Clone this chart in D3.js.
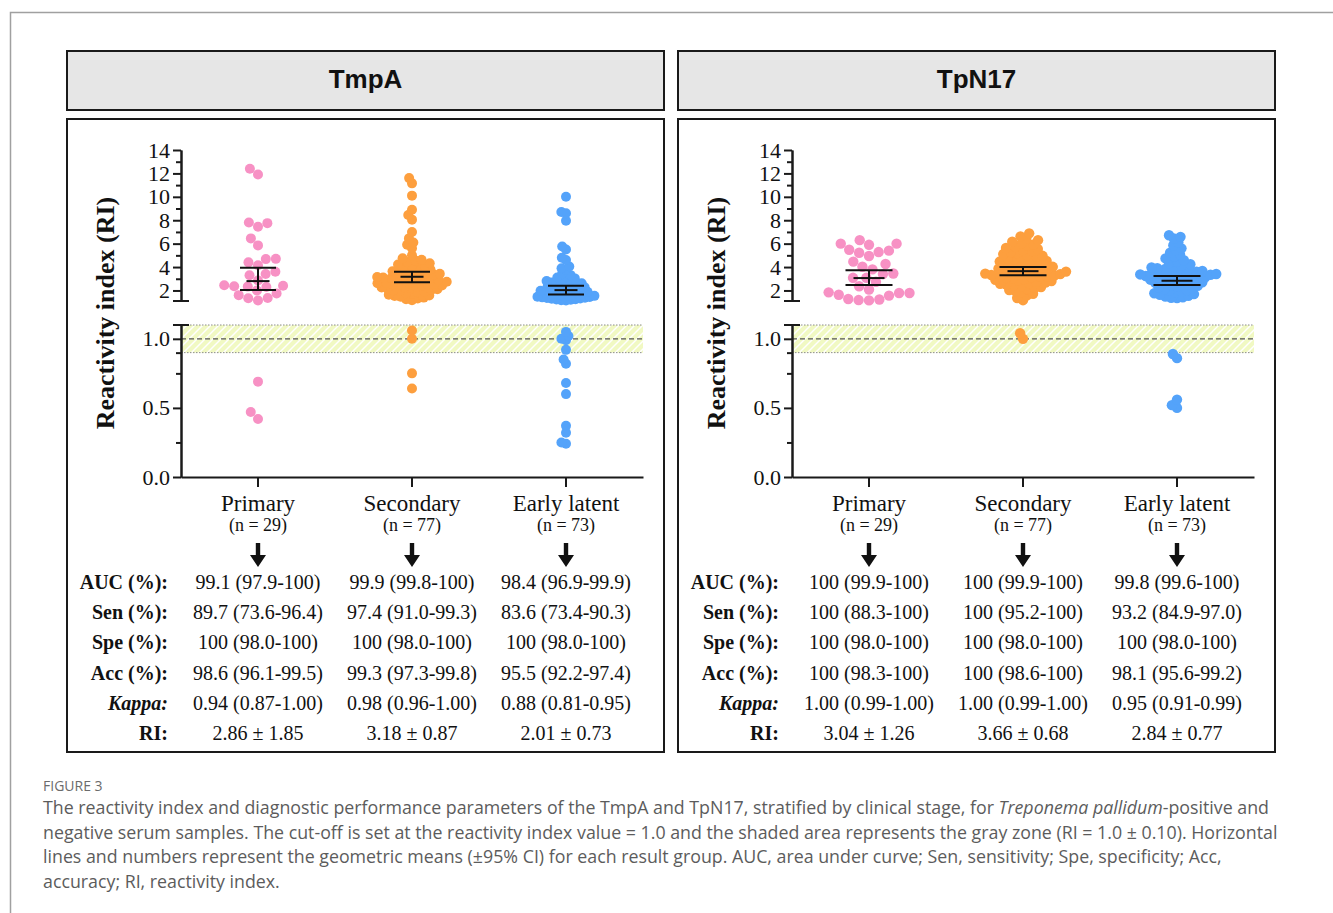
<!DOCTYPE html>
<html>
<head>
<meta charset="utf-8">
<script src="https://cdn.jsdelivr.net/npm/d3@7"></script>
<style>
body { margin: 0; background: #fff; }
svg text { font-family: "Liberation Serif", "Times New Roman", serif; fill: #111; }
.axis path, .axis line { stroke: #1a1a1a; stroke-width: 2; }
.axis text { font-size: 22px; font-family: "Liberation Serif", serif; fill: #111; }
</style>
</head>
<body>
<svg id="chart" width="1333" height="913"></svg>
<script>
// ---------------- data ----------------
const categories = ['Primary', 'Secondary', 'Early latent'];
const groupSizes = ['(n = 29)', '(n = 77)', '(n = 73)'];
const groupColors = ['#f791c4', '#fd9f3e', '#54a3fa'];

const upperTicks = [2, 4, 6, 8, 10, 12, 14];
const upperMinor = [3, 5, 7, 9, 11, 13];
const lowerTicks = [0, 0.5, 1.0];
const lowerMinor = [0.25, 0.75, 0.9];

// TmpA reactivity index per sample
const tmpaPrimary = [12.4, 11.9, 7.8, 7.75, 7.45, 6.45, 5.85, 4.7, 4.68, 4.4, 4.15, 3.6, 3.4, 3.3, 2.85,
  2.45, 2.4, 2.36, 2.33, 2.3, 2.0, 1.75, 1.6, 1.36, 1.34, 1.15, 0.69, 0.47, 0.42];
const tmpaSecondary = [11.6, 11.15, 10.1, 8.9, 8.45, 8.05, 7.0, 6.45, 6.1, 5.9, 5.6, 5.0, 4.75,
  4.62, 4.53, 4.44, 4.33, 4.21, 4.12, 4.03, 3.94, 3.86, 3.79, 3.71, 3.64, 3.57, 3.52,
  3.47, 3.42, 3.36, 3.31, 3.26, 3.2, 3.15, 3.1, 3.05, 3.01, 2.96, 2.92, 2.88, 2.84, 2.79, 2.75,
  2.71, 2.66, 2.62, 2.58, 2.54, 2.51, 2.47, 2.43, 2.38, 2.34, 2.29, 2.25, 2.2, 2.16, 2.11, 2.06,
  2.02, 1.96, 1.9, 1.84, 1.77, 1.71, 1.64, 1.58, 1.52, 1.46, 1.39, 1.32, 1.25, 1.17,
  1.06, 1.0, 0.75, 0.64];
const tmpaEarly = [10.0, 8.7, 8.6, 7.95, 5.75, 5.5, 4.8, 4.6, 4.05, 3.9, 3.75, 3.45,
  3.31, 3.2, 3.11, 3.03, 2.95, 2.88, 2.81, 2.74, 2.68, 2.62, 2.57, 2.52,
  2.47, 2.43, 2.38, 2.33, 2.28, 2.24, 2.19, 2.14, 2.1, 2.05, 2.01,
  1.97, 1.93, 1.89, 1.85, 1.81, 1.77, 1.73, 1.69, 1.65, 1.61, 1.57, 1.54, 1.51,
  1.47, 1.44, 1.41, 1.38, 1.35, 1.32, 1.29, 1.26, 1.23, 1.2, 1.17, 1.14,
  1.05, 1.02, 1.0, 0.99, 0.92, 0.85, 0.82, 0.68, 0.6, 0.37, 0.32, 0.25, 0.24];

// TpN17 reactivity index per sample
const tpnPrimary = [6.3, 6.0, 6.0, 5.9, 5.48, 5.4, 5.28, 5.22, 4.94, 4.46, 4.26, 4.03, 3.8, 3.45, 3.4,
  3.08, 3.08, 2.74, 2.36, 2.08, 1.84, 1.78, 1.78, 1.63, 1.56, 1.27, 1.23, 1.18, 1.15];
const tpnSecondary = [6.88, 6.62, 6.41, 6.3, 6.17, 6.05, 5.93, 5.84, 5.72, 5.63, 5.54,
  5.46, 5.37, 5.29, 5.2, 5.11, 5.03, 4.96, 4.89, 4.82, 4.74, 4.66, 4.59, 4.52,
  4.47, 4.41, 4.34, 4.27, 4.2, 4.14, 4.08, 4.02, 3.97, 3.92, 3.86, 3.81, 3.76, 3.71, 3.66, 3.61, 3.56, 3.52,
  3.48, 3.44, 3.4, 3.36, 3.32, 3.28, 3.24, 3.2, 3.16, 3.12, 3.07, 3.02,
  2.96, 2.91, 2.85, 2.8, 2.74, 2.68, 2.62, 2.57, 2.51, 2.46, 2.38, 2.3, 2.22, 2.13, 2.04,
  1.95, 1.84, 1.71, 1.58, 1.36, 1.17, 1.04, 1.0];
const tpnEarly = [6.72, 6.58, 6.44, 6.12, 5.86, 5.6, 5.42, 5.23, 5.06, 4.91, 4.74, 4.58,
  4.46, 4.35, 4.24, 4.13, 4.04, 3.97, 3.91, 3.84, 3.78, 3.72, 3.66, 3.61, 3.56, 3.51,
  3.48, 3.44, 3.41, 3.37, 3.34, 3.3, 3.27, 3.23, 3.2, 3.16, 3.13, 3.09, 3.05, 3.02,
  2.97, 2.92, 2.86, 2.81, 2.76, 2.7, 2.65, 2.6, 2.55, 2.51, 2.46, 2.39, 2.32, 2.25, 2.18, 2.11, 2.04,
  1.97, 1.9, 1.83, 1.76, 1.69, 1.62, 1.55, 1.47, 1.42, 1.38, 1.35,
  0.89, 0.86, 0.56, 0.52, 0.5];

// geometric mean and 95% CI per group
const tmpaMean = [2.8, 3.17, 2.03];
const tmpaLow = [2.03, 2.71, 1.66];
const tmpaHigh = [3.95, 3.6, 2.4];
const tpnMean = [3.06, 3.65, 2.83];
const tpnLow = [2.46, 3.3, 2.46];
const tpnHigh = [3.72, 4.0, 3.23];

const rowLabels = ['AUC (%):', 'Sen (%):', 'Spe (%):', 'Acc (%):', 'Kappa:', 'RI:'];
const tmpaTable = [
  ['99.1 (97.9-100)', '99.9 (99.8-100)', '98.4 (96.9-99.9)'],
  ['89.7 (73.6-96.4)', '97.4 (91.0-99.3)', '83.6 (73.4-90.3)'],
  ['100 (98.0-100)', '100 (98.0-100)', '100 (98.0-100)'],
  ['98.6 (96.1-99.5)', '99.3 (97.3-99.8)', '95.5 (92.2-97.4)'],
  ['0.94 (0.87-1.00)', '0.98 (0.96-1.00)', '0.88 (0.81-0.95)'],
  ['2.86 \u00b1 1.85', '3.18 \u00b1 0.87', '2.01 \u00b1 0.73']
];
const tpnTable = [
  ['100 (99.9-100)', '100 (99.9-100)', '99.8 (99.6-100)'],
  ['100 (88.3-100)', '100 (95.2-100)', '93.2 (84.9-97.0)'],
  ['100 (98.0-100)', '100 (98.0-100)', '100 (98.0-100)'],
  ['100 (98.3-100)', '100 (98.6-100)', '98.1 (95.6-99.2)'],
  ['1.00 (0.99-1.00)', '1.00 (0.99-1.00)', '0.95 (0.91-0.99)'],
  ['3.04 \u00b1 1.26', '3.66 \u00b1 0.68', '2.84 \u00b1 0.77']
];

const captionLines = [
  ['The reactivity index and diagnostic performance parameters of the TmpA and TpN17, stratified by clinical stage, for ', 'Treponema pallidum', '-positive and'],
  ['negative serum samples. The cut-off is set at the reactivity index value = 1.0 and the shaded area represents the gray zone (RI = 1.0 \u00b1 0.10). Horizontal'],
  ['lines and numbers represent the geometric means (\u00b195% CI) for each result group. AUC, area under curve; Sen, sensitivity; Spe, specificity; Acc,'],
  ['accuracy; RI, reactivity index.']
];

// ---------------- layout ----------------
const panels = [
  { title: 'TmpA', box: 67, axisX: 181, groups: [tmpaPrimary, tmpaSecondary, tmpaEarly],
    mean: tmpaMean, low: tmpaLow, high: tmpaHigh, table: tmpaTable, halfW: 36, r: 5, capW: 36, meanW: 23 },
  { title: 'TpN17', box: 678, axisX: 792, groups: [tpnPrimary, tpnSecondary, tpnEarly],
    mean: tpnMean, low: tpnLow, high: tpnHigh, table: tpnTable, halfW: 44, r: 5.2, capW: 47, meanW: 31 }
];
const boxW = 597;
const axisW = 462;

const svg = d3.select('#chart');
svg.append('rect').attr('x', 10.5).attr('y', 12.5).attr('width', 1400).attr('height', 1000)
  .attr('fill', 'none').attr('stroke', '#a0a0a0').attr('stroke-width', 1.5);

const pat = svg.append('defs').append('pattern').attr('id', 'grayzone')
  .attr('patternUnits', 'userSpaceOnUse').attr('width', 8).attr('height', 8);
pat.append('rect').attr('width', 8).attr('height', 8).attr('fill', '#f1f9c3');
pat.append('path').attr('d', 'M-2,2 L2,-2 M0,8 L8,0 M6,10 L10,6')
  .attr('stroke', '#fff').attr('stroke-width', 1.5);

const yUpper = d3.scaleLinear().domain([1.1, 14]).range([301, 150]);
const yLower = d3.scaleLinear().domain([0, 1.1]).range([477, 325]);
const yOf = v => (v > 1.1 ? yUpper(v) : yLower(v));

// beeswarm: each point takes the free x nearest the group centre
function place(vals, cx, dist) {
  const placed = [];
  vals.slice().sort((a, b) => a - b).forEach(v => {
    const y = yOf(v);
    const blocks = [];
    placed.forEach(p => {
      const dy = Math.abs(p.y - y);
      if (dy < dist) {
        const w = Math.sqrt(dist * dist - dy * dy);
        blocks.push([p.x - w, p.x + w]);
      }
    });
    const cands = [cx];
    blocks.forEach(b => cands.push(b[0], b[1]));
    cands.sort((a, b) => Math.abs(a - cx) - Math.abs(b - cx));
    const xx = cands.find(c => blocks.every(b => c <= b[0] + 1e-6 || c >= b[1] - 1e-6));
    placed.push({ v: v, y: y, x: xx });
  });
  return placed;
}

// shrink the spacing until the swarm fits inside the allowed width
function swarm(vals, cx, dot, halfW) {
  let pts;
  for (let f = 1; f >= 0.4; f -= 0.04) {
    pts = place(vals, cx, dot * f);
    if (d3.max(pts, d => Math.abs(d.x - cx)) <= halfW) break;
  }
  return pts;
}

panels.forEach(p => {
  const g = svg.append('g');
  const x = d3.scaleBand().domain(categories).range([p.axisX, p.axisX + axisW]);
  const cx = c => x(c) + x.bandwidth() / 2;

  // title strip and frame
  g.append('rect').attr('x', p.box).attr('y', 51).attr('width', boxW).attr('height', 59)
    .attr('fill', '#e6e6e6').attr('stroke', '#1a1a1a').attr('stroke-width', 2);
  g.append('text').attr('x', p.box + boxW / 2).attr('y', 88).attr('text-anchor', 'middle')
    .style('font-family', '"Liberation Sans", Arial, sans-serif').style('font-weight', 'bold')
    .style('font-size', '26px').text(p.title);
  g.append('rect').attr('x', p.box).attr('y', 119).attr('width', boxW).attr('height', 633)
    .attr('fill', '#fff').attr('stroke', '#1a1a1a').attr('stroke-width', 2);

  // gray zone
  g.append('rect').attr('x', p.axisX).attr('y', yLower(1.1)).attr('width', axisW)
    .attr('height', yLower(0.9) - yLower(1.1)).attr('fill', 'url(#grayzone)');
  [1.1, 0.9].forEach(v => {
    g.append('line').attr('x1', p.axisX).attr('x2', p.axisX + axisW).attr('y1', yLower(v)).attr('y2', yLower(v))
      .attr('stroke', '#8c8c8c').attr('stroke-width', 1).attr('stroke-dasharray', '1.5,1.5');
  });
  g.append('line').attr('x1', p.axisX).attr('x2', p.axisX + axisW).attr('y1', yLower(1)).attr('y2', yLower(1))
    .attr('stroke', '#555').attr('stroke-width', 1.3).attr('stroke-dasharray', '5,3');

  // axes
  g.append('g').attr('class', 'axis').attr('transform', 'translate(' + p.axisX + ',0)')
    .call(d3.axisLeft(yUpper).tickValues(upperTicks).tickSize(8).tickSizeOuter(0).tickPadding(3));
  g.append('g').attr('class', 'axis').attr('transform', 'translate(' + p.axisX + ',0)')
    .call(d3.axisLeft(yUpper).tickValues(upperMinor).tickSize(5).tickSizeOuter(0).tickFormat(''));
  g.append('g').attr('class', 'axis').attr('transform', 'translate(' + p.axisX + ',0)')
    .call(d3.axisLeft(yLower).tickValues(lowerTicks).tickSize(8).tickSizeOuter(0).tickPadding(3)
      .tickFormat(d3.format('.1f')));
  g.append('g').attr('class', 'axis').attr('transform', 'translate(' + p.axisX + ',0)')
    .call(d3.axisLeft(yLower).tickValues(lowerMinor).tickSize(5).tickSizeOuter(0).tickFormat(''));
  // axis break ends
  [yUpper(1.1), yLower(1.1)].forEach(yy => {
    g.append('line').attr('x1', p.axisX - 8).attr('x2', p.axisX + 8).attr('y1', yy).attr('y2', yy)
      .attr('stroke', '#1a1a1a').attr('stroke-width', 2);
  });
  g.append('g').attr('class', 'axis').attr('transform', 'translate(0,' + yLower(0) + ')')
    .call(d3.axisBottom(x).tickSize(10).tickSizeOuter(0).tickFormat(''));

  g.append('text').attr('transform', 'translate(' + (p.axisX - 67) + ',313) rotate(-90)')
    .attr('text-anchor', 'middle').style('font-weight', 'bold').style('font-size', '26px')
    .text('Reactivity index (RI)');

  // dots
  p.groups.forEach((vals, i) => {
    const pts = swarm(vals, cx(categories[i]), p.r * 2, p.halfW);
    g.append('g').selectAll('circle').data(pts).join('circle')
      .attr('cx', d => d.x).attr('cy', d => d.y).attr('r', p.r).attr('fill', groupColors[i]);
  });

  // geometric mean and CI
  categories.forEach((c, i) => {
    const eb = g.append('g').attr('stroke', '#111').attr('stroke-width', 2);
    const xc = cx(c);
    eb.append('line').attr('x1', xc).attr('x2', xc).attr('y1', yOf(p.low[i])).attr('y2', yOf(p.high[i]));
    [p.low[i], p.high[i]].forEach(v => {
      eb.append('line').attr('x1', xc - p.capW / 2).attr('x2', xc + p.capW / 2).attr('y1', yOf(v)).attr('y2', yOf(v));
    });
    eb.append('line').attr('x1', xc - p.meanW / 2).attr('x2', xc + p.meanW / 2)
      .attr('y1', yOf(p.mean[i])).attr('y2', yOf(p.mean[i]));

    // category labels and arrow
    g.append('text').attr('x', xc).attr('y', 511).attr('text-anchor', 'middle').style('font-size', '23px').text(c);
    g.append('text').attr('x', xc).attr('y', 531).attr('text-anchor', 'middle').style('font-size', '18px').text(groupSizes[i]);
    g.append('path').attr('d', 'M' + (xc - 2.2) + ',543H' + (xc + 2.2) + 'V555H' + (xc + 8) + 'L' + xc + ',567L' + (xc - 8) + ',555H' + (xc - 2.2) + 'Z')
      .attr('fill', '#111');
  });

  // performance table
  rowLabels.forEach((lab, r) => {
    const yy = 589 + r * 30.2;
    g.append('text').attr('x', p.axisX - 13).attr('y', yy).attr('text-anchor', 'end')
      .style('font-weight', 'bold').style('font-style', lab === 'Kappa:' ? 'italic' : 'normal')
      .style('font-size', '20px').text(lab);
    p.table[r].forEach((val, i) => {
      g.append('text').attr('x', cx(categories[i])).attr('y', yy).attr('text-anchor', 'middle')
        .style('font-size', '20px').text(val);
    });
  });
});

// caption
const cap = svg.append('g');
cap.append('text').attr('x', 43).attr('y', 791).style('font-family', '"Open Sans", sans-serif')
  .style('font-size', '14px').style('fill', '#6b6b6b').text('FIGURE 3');
captionLines.forEach((parts, i) => {
  const t = cap.append('text').attr('x', 43).attr('y', 814 + i * 24.5)
    .style('font-family', '"Open Sans", sans-serif').style('font-size', '17.8px').style('fill', '#5c5c5c');
  parts.forEach((s, j) => {
    t.append('tspan').style('font-style', j === 1 ? 'italic' : 'normal').text(s);
  });
});
</script>
</body>
</html>
